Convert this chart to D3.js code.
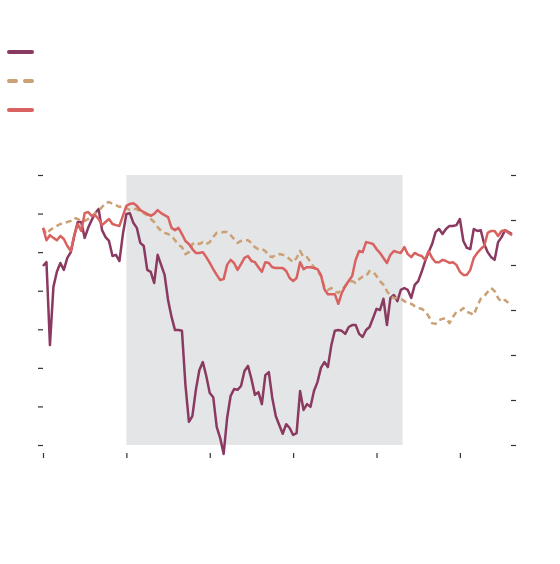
<!DOCTYPE html>
<html>
<head>
<meta charset="utf-8">
<script src="https://cdn.jsdelivr.net/npm/d3@7"></script>
<style>
  html, body { margin: 0; padding: 0; background: #fff; }
  svg { display: block; }
  .tick line { stroke: #333; stroke-width: 1.2; }
  .tick text { display: none; }
  .domain { display: none; }
</style>
</head>
<body>
<svg id="chart" width="560" height="564"></svg>
<script>
// monthly index, ticks every 24 months
const xTicks = [0, 24, 48, 72, 96, 120];
const leftTicks = [0, 10, 20, 30, 40, 50, 60, 70];
const rightTicks = [0, 10, 20, 30, 40, 50, 60];
const shade = [24, 103.5];

const seriesA = [
  46.4, 47.4, 25.9, 41.0, 44.9, 47.2, 45.4, 48.5, 50.0, 54.2, 57.8, 57.8, 53.7, 56.3, 58.3, 60.1,
  61.2, 55.7, 53.9, 52.9, 49.0, 49.3, 47.7, 54.7, 59.9, 60.1, 57.6, 56.3, 52.4, 51.6, 45.4, 44.9,
  42.0, 49.3, 46.7, 44.1, 37.6, 33.2, 29.8, 29.8, 29.6, 15.6, 6.0, 7.5, 14.3, 19.4, 21.5, 17.9,
  13.5, 12.4, 4.7, 1.8, -2.3, 7.0, 12.7, 14.5, 14.3, 15.3, 19.2, 20.5, 17.1, 13.0, 13.7, 10.6,
  18.1, 18.9, 12.2, 7.5, 5.2, 2.9, 5.4, 4.4, 2.6, 3.1, 14.0, 9.1, 10.6, 9.9, 14.0, 16.3,
  20.0, 21.5, 20.2, 25.9, 29.6, 29.8, 29.6, 28.8, 30.6, 31.1, 31.1, 28.8, 28.0, 29.8, 30.6, 32.9,
  35.3, 35.0, 37.9, 31.1, 38.1, 38.9, 37.3, 40.2, 40.7, 40.2, 38.1, 41.5, 42.5, 44.9, 47.7, 50.0,
  52.1, 55.2, 56.0, 54.7, 56.0, 56.8, 56.8, 57.0, 58.6, 52.9, 51.1, 50.8, 56.0, 55.5, 55.7, 52.1,
  50.0, 48.7, 48.0, 52.6, 53.9, 55.7, 55.2, 54.7
];

const seriesB = [
  56.3, 54.7, 55.7, 56.3, 56.8, 57.3, 57.6, 57.8, 58.1, 58.9, 58.6, 58.1, 58.1, 58.6, 59.1, 60.1,
  60.7, 61.7, 62.7, 63.0, 62.5, 62.2, 61.7, 62.0, 61.4, 60.9, 61.2, 61.2, 60.4, 60.1, 59.6, 58.6,
  57.8, 56.5, 55.5, 55.0, 54.7, 54.2, 53.1, 51.9, 51.3, 49.5, 50.0, 52.1, 52.6, 52.1, 52.6, 52.1,
  52.6, 53.9, 55.0, 55.0, 55.2, 55.2, 54.4, 53.4, 52.4, 52.9, 53.1, 53.1, 52.4, 51.3, 50.8, 50.8,
  50.3, 49.0, 48.7, 49.3, 49.5, 49.3, 49.0, 48.2, 47.4, 48.5, 50.3, 48.7, 48.7, 47.4, 46.1, 45.1,
  43.8, 41.0, 40.2, 40.7, 39.9, 39.4, 40.4, 41.2, 42.3, 42.5, 42.0, 43.0, 43.6, 43.8, 45.1, 44.9,
  43.8, 42.5, 41.5, 39.9, 38.6, 38.1, 38.1, 37.9, 37.3, 36.8, 36.6, 36.0, 35.5, 35.3, 34.7, 33.4,
  31.6, 31.4, 32.4, 32.7, 32.9, 31.6, 33.2, 34.5, 34.7, 35.5, 34.5, 34.2, 33.7, 36.0, 37.9, 38.6,
  39.7, 40.7, 39.9, 38.1, 37.1, 37.6, 36.8, 36.3
];

const seriesC = [
  56.3, 53.1, 54.4, 53.7, 53.1, 54.2, 53.4, 51.6, 50.3, 54.4, 57.3, 55.5, 60.1, 60.4, 59.4, 59.6,
  58.6, 57.0, 57.8, 58.6, 57.3, 57.0, 56.8, 59.4, 62.0, 62.5, 62.7, 62.0, 60.9, 60.4, 59.9, 59.4,
  59.9, 60.9, 60.1, 59.6, 59.1, 56.3, 55.7, 56.3, 54.7, 52.9, 52.1, 50.8, 49.8, 49.8, 50.0, 48.7,
  47.2, 45.6, 44.1, 42.8, 43.0, 46.7, 48.0, 47.2, 45.4, 46.9, 48.5, 49.0, 47.7, 47.4, 46.1, 44.9,
  47.4, 47.2, 46.1, 45.9, 45.9, 45.9, 45.1, 43.3, 42.5, 43.3, 47.4, 45.6, 46.1, 46.1, 45.9, 45.6,
  44.1, 40.4, 39.1, 39.1, 39.1, 36.6, 39.4, 41.2, 42.5, 43.8, 48.0, 50.3, 50.0, 52.6, 52.4, 52.1,
  50.8, 49.8, 48.5, 47.2, 49.3, 50.3, 50.0, 49.8, 51.3, 49.5, 48.7, 49.8, 49.3, 49.0, 48.0, 50.3,
  48.5, 47.4, 47.4, 48.0, 47.7, 47.2, 47.4, 46.7, 44.9, 44.1, 44.1, 45.4, 48.5, 49.8, 50.8, 51.6,
  55.0, 55.5, 55.5, 54.2, 55.5, 55.7, 55.0, 54.4
];

const series = [
  { key: "a", values: seriesA, color: "#8a3a60", dash: null },
  { key: "b", values: seriesB, color: "#caa074", dash: "6,4" },
  { key: "c", values: seriesC, color: "#d9615f", dash: null },
];

const svg = d3.select("#chart");

const x = d3.scaleLinear().domain([0, seriesA.length - 1]).range([43, 512]);
const yL = d3.scaleLinear().domain([0, 70]).range([445, 175]);
const yR = d3.scaleLinear().domain([0, 60]).range([445, 175]);

/* recession band */
svg.append("rect")
  .attr("x", x(shade[0]))
  .attr("y", yL(70))
  .attr("width", x(shade[1]) - x(shade[0]))
  .attr("height", yL(0) - yL(70))
  .attr("fill", "#e4e5e7");

/* axes, ticks only */
svg.append("g")
  .attr("transform", "translate(43,0)")
  .call(d3.axisLeft(yL).tickValues(leftTicks).tickSize(5).tickSizeOuter(0));

svg.append("g")
  .attr("transform", "translate(511,0)")
  .call(d3.axisRight(yR).tickValues(rightTicks).tickSize(5).tickSizeOuter(0));

svg.append("g")
  .attr("transform", "translate(0,453)")
  .call(d3.axisBottom(x).tickValues(xTicks).tickSize(5).tickSizeOuter(0));

/* lines */
const line = d3.line()
  .x((d, i) => x(i))
  .y((d) => yL(d))
  .curve(d3.curveLinear);

svg.append("g")
  .selectAll("path")
  .data(series)
  .join("path")
  .attr("d", (d) => line(d.values))
  .attr("fill", "none")
  .attr("stroke", (d) => d.color)
  .attr("stroke-width", 2.5)
  .attr("stroke-linejoin", "round")
  .attr("stroke-dasharray", (d) => d.dash);

/* legend, swatches only */
const legend = svg.append("g")
  .selectAll("line")
  .data(series)
  .join("line")
  .attr("x1", 9)
  .attr("x2", 32)
  .attr("y1", (d, i) => 52 + i * 29)
  .attr("y2", (d, i) => 52 + i * 29)
  .attr("stroke", (d) => d.color)
  .attr("stroke-width", 4)
  .attr("stroke-linecap", "round")
  .attr("stroke-dasharray", (d) => (d.dash ? "7,9" : null));
</script>
</body>
</html>
